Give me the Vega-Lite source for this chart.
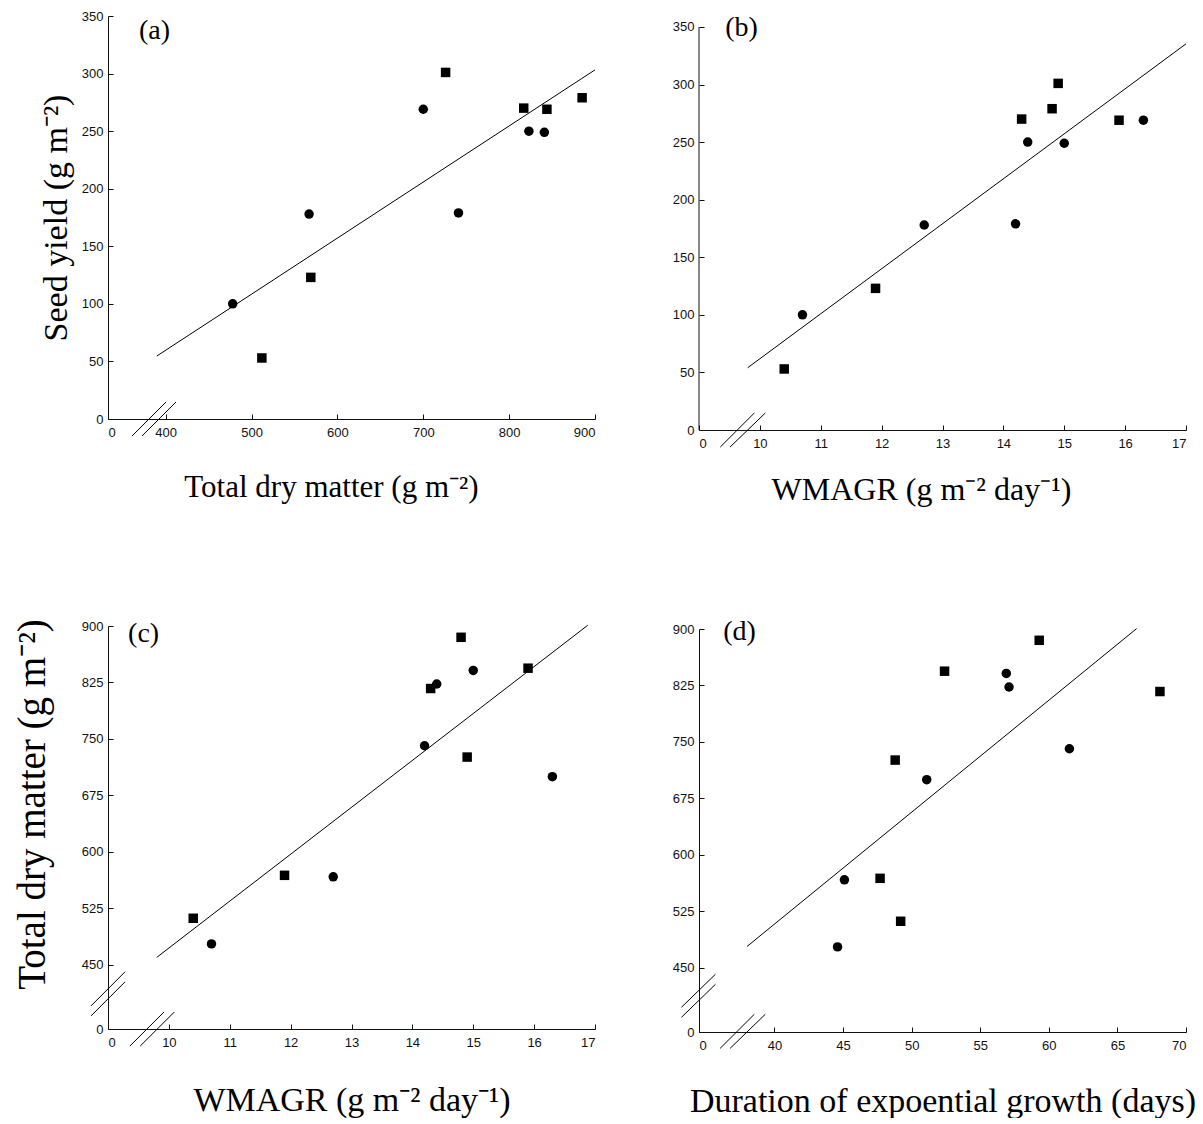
{
  "$schema": "https://vega.github.io/schema/vega-lite/v6.json",
  "padding": {"left": 12, "top": 10, "right": 5, "bottom": 0},
  "background": "white",
  "datasets": {
    "pts": [
      {"group": "A", "tdm": 478, "yield": 100, "wmagr": 10.7, "duration": 44.6},
      {"group": "A", "tdm": 567, "yield": 178, "wmagr": 12.7, "duration": 45.1},
      {"group": "A", "tdm": 700, "yield": 269, "wmagr": 16.3, "duration": 51.1},
      {"group": "A", "tdm": 741, "yield": 179, "wmagr": 14.2, "duration": 61.5},
      {"group": "A", "tdm": 823, "yield": 250, "wmagr": 14.4, "duration": 57.1},
      {"group": "A", "tdm": 841, "yield": 249, "wmagr": 15.0, "duration": 56.9},
      {"group": "B", "tdm": 512, "yield": 53, "wmagr": 10.4, "duration": 49.2},
      {"group": "B", "tdm": 569, "yield": 123, "wmagr": 11.9, "duration": 47.7},
      {"group": "B", "tdm": 726, "yield": 301, "wmagr": 14.9, "duration": 48.8},
      {"group": "B", "tdm": 817, "yield": 270, "wmagr": 14.3, "duration": 68.1},
      {"group": "B", "tdm": 844, "yield": 269, "wmagr": 15.9, "duration": 52.4},
      {"group": "B", "tdm": 885, "yield": 279, "wmagr": 14.8, "duration": 59.3}
    ],
    "one": [{"n": 1}]
  },
  "data": {"name": "pts"},
  "hconcat": [
    {
      "vconcat": [
        {
          "width": 487, "height": 403,
          "layer": [
            {
              "mark": {"type": "point", "filled": true, "size": 90, "opacity": 1, "color": "black"},
              "encoding": {
                "x": {"field": "tdm", "type": "quantitative", "scale": {"domain": [332.8, 900], "nice": false, "zero": false},
                      "axis": {"values": [332.8, 400, 500, 600, 700, 800, 900], "format": "d", "labelExpr": "datum.value < 350 ? '0' : datum.label", "title": "Total dry matter (g m⁻²)", "titleFontSize": 31, "titleBaseline": "alphabetic", "titleY": 77, "titleX": 223}},
                "y": {"field": "yield", "type": "quantitative", "scale": {"domain": [0, 350], "nice": false},
                      "axis": {"values": [0, 50, 100, 150, 200, 250, 300, 350], "labelPadding": 10, "title": "Seed yield (g m⁻²)", "titleX": -42, "titleBaseline": "alphabetic"}},
                "shape": {"field": "group", "type": "nominal", "scale": {"domain": ["A", "B"], "range": ["circle", "square"]}, "legend": null}
              }
            },
            {
              "transform": [{"regression": "yield", "on": "tdm", "extent": [389.6, 900]}],
              "mark": {"type": "line", "color": "black", "strokeWidth": 1},
              "encoding": {"x": {"field": "tdm", "type": "quantitative"}, "y": {"field": "yield", "type": "quantitative"}}
            },
            {
              "data": {"name": "one"},
              "mark": {"type": "rule", "color": "black", "strokeWidth": 1},
              "encoding": {"x": {"datum": 360.8}, "x2": {"datum": 400.4}, "y": {"datum": -14.8}, "y2": {"datum": 14.8}}
            },
            {
              "data": {"name": "one"},
              "mark": {"type": "rule", "color": "black", "strokeWidth": 1},
              "encoding": {"x": {"datum": 372.4}, "x2": {"datum": 412}, "y": {"datum": -14.8}, "y2": {"datum": 14.8}}
            },
            {
              "data": {"name": "one"},
              "mark": {"type": "text", "text": "(a)", "font": "Liberation Serif", "fontSize": 28, "fontWeight": "normal", "align": "left", "baseline": "alphabetic", "fill": "black"},
              "encoding": {"x": {"datum": 368.9}, "y": {"datum": 330}}
            }
          ]
        },
        {
          "width": 487, "height": 403,
          "layer": [
            {
              "mark": {"type": "point", "filled": true, "size": 90, "opacity": 1, "color": "black"},
              "encoding": {
                "x": {"field": "wmagr", "type": "quantitative", "scale": {"domain": [9, 17], "nice": false, "zero": false},
                      "axis": {"values": [9, 10, 11, 12, 13, 14, 15, 16, 17], "format": "d", "labelExpr": "datum.value < 9.5 ? '0' : datum.label", "title": "WMAGR (g m⁻² day⁻¹)", "titleFontSize": 34, "titleBaseline": "alphabetic", "titleY": 81}},
                "y": {"field": "tdm", "type": "quantitative", "scale": {"domain": [365, 900], "nice": false, "zero": false},
                      "axis": {"values": [365, 450, 525, 600, 675, 750, 825, 900], "format": "d", "labelPadding": 10, "labelExpr": "datum.value < 400 ? '0' : datum.label", "title": "Total dry matter (g m⁻²)", "titleFontSize": 39, "titleX": -64, "titleY": 178, "titleBaseline": "alphabetic"}},
                "shape": {"field": "group", "type": "nominal", "scale": {"domain": ["A", "B"], "range": ["circle", "square"]}, "legend": null}
              }
            },
            {
              "transform": [{"regression": "tdm", "on": "wmagr", "extent": [9.8, 16.88]}],
              "mark": {"type": "line", "color": "black", "strokeWidth": 1},
              "encoding": {"x": {"field": "wmagr", "type": "quantitative"}, "y": {"field": "tdm", "type": "quantitative"}}
            },
            {
              "data": {"name": "one"},
              "mark": {"type": "rule", "color": "black", "strokeWidth": 1},
              "encoding": {"x": {"datum": 9.36}, "x2": {"datum": 9.92}, "y": {"datum": 342.4}, "y2": {"datum": 387.6}}
            },
            {
              "data": {"name": "one"},
              "mark": {"type": "rule", "color": "black", "strokeWidth": 1},
              "encoding": {"x": {"datum": 9.53}, "x2": {"datum": 10.09}, "y": {"datum": 342.4}, "y2": {"datum": 387.6}}
            },
            {
              "data": {"name": "one"},
              "mark": {"type": "rule", "color": "black", "strokeWidth": 1},
              "encoding": {"x": {"datum": 8.72}, "x2": {"datum": 9.28}, "y": {"datum": 395.6}, "y2": {"datum": 440.9}}
            },
            {
              "data": {"name": "one"},
              "mark": {"type": "rule", "color": "black", "strokeWidth": 1},
              "encoding": {"x": {"datum": 8.72}, "x2": {"datum": 9.28}, "y": {"datum": 382.3}, "y2": {"datum": 427.6}}
            },
            {
              "data": {"name": "one"},
              "mark": {"type": "text", "text": "(c)", "font": "Liberation Serif", "fontSize": 28, "fontWeight": "normal", "align": "left", "baseline": "alphabetic", "fill": "black"},
              "encoding": {"x": {"datum": 9.33}, "y": {"datum": 879}}
            }
          ]
        }
      ],
      "spacing": 207,
      "bounds": "flush"
    },
    {
      "vconcat": [
        {
          "width": 487, "height": 414,
          "layer": [
            {
              "mark": {"type": "point", "filled": true, "size": 90, "opacity": 1, "color": "black"},
              "encoding": {
                "x": {"field": "wmagr", "type": "quantitative", "scale": {"domain": [9, 17], "nice": false, "zero": false},
                      "axis": {"values": [9, 10, 11, 12, 13, 14, 15, 16, 17], "format": "d", "labelExpr": "datum.value < 9.5 ? '0' : datum.label", "title": "WMAGR (g m⁻² day⁻¹)", "titleFontSize": 32, "titleBaseline": "alphabetic", "titleY": 69, "titleX": 222}},
                "y": {"field": "yield", "type": "quantitative", "scale": {"domain": [0, 359.5], "nice": false},
                      "axis": {"values": [0, 50, 100, 150, 200, 250, 300, 350], "labelPadding": 10, "domain": false, "title": null}},
                "shape": {"field": "group", "type": "nominal", "scale": {"domain": ["A", "B"], "range": ["circle", "square"]}, "legend": null}
              }
            },
            {
              "transform": [{"regression": "yield", "on": "wmagr", "extent": [9.8, 17]}],
              "mark": {"type": "line", "color": "black", "strokeWidth": 1},
              "encoding": {"x": {"field": "wmagr", "type": "quantitative"}, "y": {"field": "yield", "type": "quantitative"}}
            },
            {
              "data": {"name": "one"},
              "mark": {"type": "rule", "color": "#111", "strokeWidth": 1},
              "encoding": {"x": {"datum": 9}, "y": {"datum": 0}, "y2": {"datum": 350}}
            },
            {
              "data": {"name": "one"},
              "mark": {"type": "rule", "color": "black", "strokeWidth": 1},
              "encoding": {"x": {"datum": 9.35}, "x2": {"datum": 9.91}, "y": {"datum": -14.8}, "y2": {"datum": 14.8}}
            },
            {
              "data": {"name": "one"},
              "mark": {"type": "rule", "color": "black", "strokeWidth": 1},
              "encoding": {"x": {"datum": 9.51}, "x2": {"datum": 10.09}, "y": {"datum": -14.8}, "y2": {"datum": 14.8}}
            },
            {
              "data": {"name": "one"},
              "mark": {"type": "text", "text": "(b)", "font": "Liberation Serif", "fontSize": 28, "fontWeight": "normal", "align": "left", "baseline": "alphabetic", "fill": "black"},
              "encoding": {"x": {"datum": 9.43}, "y": {"datum": 342}}
            }
          ]
        },
        {
          "width": 487, "height": 403,
          "layer": [
            {
              "mark": {"type": "point", "filled": true, "size": 90, "opacity": 1, "color": "black"},
              "encoding": {
                "x": {"field": "duration", "type": "quantitative", "scale": {"domain": [34.5, 70], "nice": false, "zero": false},
                      "axis": {"values": [34.5, 40, 45, 50, 55, 60, 65, 70], "format": "d", "labelExpr": "datum.value < 37 ? '0' : datum.label", "title": "Duration of expoential growth (days)", "titleFontSize": 34, "titleBaseline": "alphabetic", "titleY": 79}},
                "y": {"field": "tdm", "type": "quantitative", "scale": {"domain": [365, 900], "nice": false, "zero": false},
                      "axis": {"values": [365, 450, 525, 600, 675, 750, 825, 900], "format": "d", "labelPadding": 10, "labelExpr": "datum.value < 400 ? '0' : datum.label", "title": null}},
                "shape": {"field": "group", "type": "nominal", "scale": {"domain": ["A", "B"], "range": ["circle", "square"]}, "legend": null}
              }
            },
            {
              "transform": [{"regression": "tdm", "on": "duration", "extent": [38, 66.4]}],
              "mark": {"type": "line", "color": "black", "strokeWidth": 1},
              "encoding": {"x": {"field": "duration", "type": "quantitative"}, "y": {"field": "tdm", "type": "quantitative"}}
            },
            {
              "data": {"name": "one"},
              "mark": {"type": "rule", "color": "black", "strokeWidth": 1},
              "encoding": {"x": {"datum": 36.04}, "x2": {"datum": 38.53}, "y": {"datum": 343.3}, "y2": {"datum": 388.5}}
            },
            {
              "data": {"name": "one"},
              "mark": {"type": "rule", "color": "black", "strokeWidth": 1},
              "encoding": {"x": {"datum": 36.77}, "x2": {"datum": 39.33}, "y": {"datum": 343.3}, "y2": {"datum": 388.5}}
            },
            {
              "data": {"name": "one"},
              "mark": {"type": "rule", "color": "black", "strokeWidth": 1},
              "encoding": {"x": {"datum": 33.22}, "x2": {"datum": 35.7}, "y": {"datum": 397.8}, "y2": {"datum": 441.7}}
            },
            {
              "data": {"name": "one"},
              "mark": {"type": "rule", "color": "black", "strokeWidth": 1},
              "encoding": {"x": {"datum": 33.22}, "x2": {"datum": 35.7}, "y": {"datum": 384.5}, "y2": {"datum": 428.3}}
            },
            {
              "data": {"name": "one"},
              "mark": {"type": "text", "text": "(d)", "font": "Liberation Serif", "fontSize": 28, "fontWeight": "normal", "align": "left", "baseline": "alphabetic", "fill": "black"},
              "encoding": {"x": {"datum": 36.26}, "y": {"datum": 885}}
            }
          ]
        }
      ],
      "spacing": 199,
      "bounds": "flush"
    }
  ],
  "spacing": 75,
  "resolve": {"scale": {"x": "independent", "y": "independent"}},
  "config": {
    "view": {"stroke": null},
    "axis": {
      "grid": false,
      "domainColor": "#111",
      "tickColor": "#111",
      "tickSize": -5,
      "labelPadding": 12,
      "labelColor": "#111",
      "labelFont": "Liberation Sans",
      "labelFontSize": 13,
      "titleFont": "Liberation Serif",
      "titleFontSize": 34,
      "titleFontWeight": "normal",
      "titleColor": "black"
    }
  }
}
